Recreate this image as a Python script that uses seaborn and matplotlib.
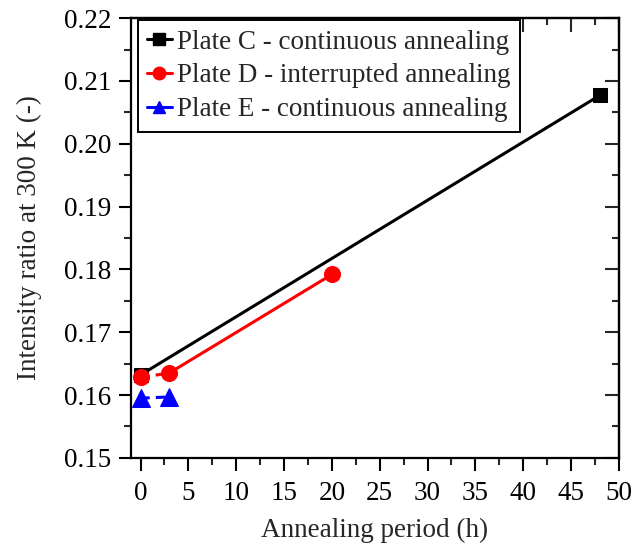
import numpy as np
import pandas as pd
import matplotlib
matplotlib.use("Agg")
import matplotlib.pyplot as plt
import seaborn as sns
from matplotlib.ticker import MultipleLocator
from matplotlib.lines import Line2D

# data
c_hours = [0, 48]
c_ratio = [0.1632, 0.2077]
d_hours = [0, 3, 20]
d_ratio = [0.1628, 0.1635, 0.1792]
e_hours = [0, 3]
e_ratio = [0.1595, 0.1597]

sns.set_style("ticks")
plt.rcParams["font.family"] = ["Liberation Serif", "DejaVu Serif"]
plt.rcParams["axes.linewidth"] = 1.6

fig = plt.figure(figsize=(6.42, 5.49), dpi=100)
ax = fig.add_axes([0.204, 0.166, 0.76, 0.801])

dfc = pd.DataFrame({"h": c_hours, "r": c_ratio})
dfd = pd.DataFrame({"h": d_hours, "r": d_ratio})
dfe = pd.DataFrame({"h": e_hours, "r": e_ratio})

# plate C
sns.lineplot(data=dfc, x="h", y="r", ax=ax, color="black", lw=2.2,
             marker="s", markersize=10, markeredgecolor="black", legend=False)
# plate D: dashed first segment, solid afterwards
sns.lineplot(data=dfd.iloc[:2], x="h", y="r", ax=ax, color="red", lw=2.2,
             linestyle=(0, (3, 2)), legend=False)
sns.lineplot(data=dfd.iloc[1:], x="h", y="r", ax=ax, color="red", lw=2.2,
             legend=False)
sns.lineplot(data=dfd, x="h", y="r", ax=ax, color="red", lw=0,
             marker="o", markersize=11.5, markeredgecolor="red", legend=False)
# plate E
sns.lineplot(data=dfe, x="h", y="r", ax=ax, color="blue", lw=2.2,
             linestyle=(0, (3, 2)), marker="^", markersize=12.5,
             markeredgecolor="blue", legend=False)

# legend handles
handles = [
    Line2D([], [], color="black", lw=2.2, marker="s", markersize=8),
    Line2D([], [], color="red", lw=2.2, marker="o", markersize=9),
    Line2D([], [], color="blue", lw=2.2, marker="^", markersize=9),
]
labels = ["Plate C - continuous annealing",
          "Plate D - interrupted annealing",
          "Plate E - continuous annealing"]
leg = ax.legend(handles, labels, loc="upper left", fontsize=19.5,
                handlelength=0.9, handletextpad=0.2, borderpad=0.35,
                labelspacing=0.32, fancybox=False, framealpha=1,
                bbox_to_anchor=(0.014, 0.995), borderaxespad=0.0)
leg.get_frame().set_edgecolor("black")
leg.get_frame().set_linewidth(1.4)

ax.set_xlim(-1, 50)
ax.set_ylim(0.15, 0.22)
ax.xaxis.set_major_locator(MultipleLocator(5))
ax.xaxis.set_minor_locator(MultipleLocator(2.5))
ax.yaxis.set_major_locator(MultipleLocator(0.01))
ax.yaxis.set_minor_locator(MultipleLocator(0.005))
ax.yaxis.set_major_formatter(matplotlib.ticker.FormatStrFormatter("%.2f"))

ax.tick_params(which="major", direction="out", length=9, width=1.5,
               labelsize=19.5, colors="black", pad=5)
ax.tick_params(axis="x", which="major", pad=8)
ax.tick_params(which="minor", direction="out", length=5, width=1.5)

# mirrored inward ticks on top and right
top = ax.secondary_xaxis("top")
top.xaxis.set_major_locator(MultipleLocator(5))
top.xaxis.set_minor_locator(MultipleLocator(2.5))
top.tick_params(which="major", direction="in", length=10, width=1.5, labeltop=False)
top.tick_params(which="minor", direction="in", length=5, width=1.5)
right = ax.secondary_yaxis("right")
right.yaxis.set_major_locator(MultipleLocator(0.01))
right.yaxis.set_minor_locator(MultipleLocator(0.005))
right.tick_params(which="major", direction="in", length=10, width=1.5, labelright=False)
right.tick_params(which="minor", direction="in", length=5, width=1.5)
for s in ax.spines.values():
    s.set_color("black")

ax.set_xlabel("Annealing period (h)", fontsize=19.5, labelpad=8)
ax.set_ylabel("Intensity ratio at 300 K (-)", fontsize=19.5, labelpad=16)

fig.savefig("out.png", dpi=100)
